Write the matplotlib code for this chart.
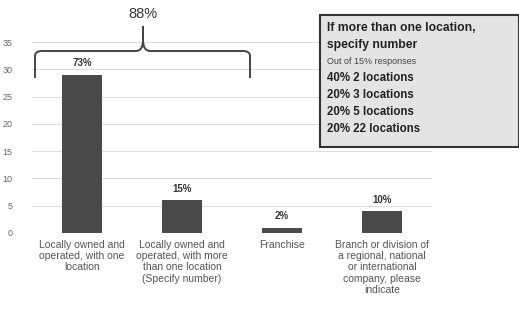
import matplotlib
matplotlib.use('Agg')
import matplotlib.pyplot as plt
from matplotlib.patches import Rectangle
from matplotlib.path import Path
from matplotlib.patches import PathPatch

plt.rcParams['font.family'] = ['Liberation Sans', 'DejaVu Sans']

# data: number of respondents per business type (out of 40)
categories = ['Locally owned and\noperated, with one\nlocation',
              'Locally owned and\noperated, with more\nthan one location\n(Specify number)',
              'Franchise',
              'Branch or division of\na regional, national\nor international\ncompany, please\nindicate']
counts = [29, 6, 1, 4]
pct_labels = ['73%', '15%', '2%', '10%']
yticks = [0, 5, 10, 15, 20, 25, 30, 35]
box_lines = ['40% 2 locations', '20% 3 locations', '20% 5 locations', '20% 22 locations']

W, H = 519, 310
fig = plt.figure(figsize=(W / 100, H / 100), dpi=100)
ax = fig.add_axes([32 / W, 1 - 233 / H, 400 / W, (233 - 42) / H])

x = range(len(categories))
ax.bar(x, counts, width=0.4, color='#4a4a4a', zorder=2)
for i, (c, lab) in enumerate(zip(counts, pct_labels)):
    ax.text(i, c + 1.2, lab, ha='center', va='bottom', fontsize=7,
            color='#333333', fontweight='bold')

ax.set_xlim(-0.5, 3.5)
ax.set_ylim(0, 35)
ax.set_yticks(yticks)
ax.set_yticklabels([str(t) for t in yticks], fontsize=6.5, color='#666666')
ax.set_xticks(list(x))
ax.set_xticklabels(categories, fontsize=7.5, color='#555555', linespacing=1.15)
ax.tick_params(length=0, pad=5)
ax.tick_params(axis='y', pad=14)
ax.yaxis.grid(True, color='#dddddd', linewidth=0.8)
ax.set_axisbelow(True)
for s in ax.spines.values():
    s.set_visible(False)

# brace over first two bars (figure pixel coords -> fraction)
def fp(px, py):
    return (px / W, 1 - py / H)

verts = [fp(35, 78), fp(35, 56), fp(35, 51), fp(42, 51),
         fp(136, 51), fp(143, 51), fp(143, 40), fp(143, 26),
         fp(143, 40), fp(143, 51), fp(150, 51),
         fp(243, 51), fp(250, 51), fp(250, 56), fp(250, 78)]
codes = [Path.MOVETO, Path.LINETO, Path.CURVE3, Path.CURVE3,
         Path.LINETO, Path.CURVE3, Path.CURVE3, Path.LINETO,
         Path.LINETO, Path.CURVE3, Path.CURVE3,
         Path.LINETO, Path.CURVE3, Path.CURVE3, Path.LINETO]
fig.patches.append(PathPatch(Path(verts, codes), transform=fig.transFigure,
                             fill=False, edgecolor='#444444', linewidth=1.4))
fig.text(143 / W, 1 - 14 / H, '88%', ha='center', va='center', fontsize=10.5,
         color='#333333')

# note box
fig.patches.append(Rectangle(fp(320, 147), 199 / W, 132 / H, transform=fig.transFigure,
                             facecolor='#e4e4e4', edgecolor='#333333', linewidth=1.5))
tx = 327 / W
fig.text(tx, 1 - 28 / H, 'If more than one location,', fontsize=8.7, fontweight='bold',
         color='#222222', va='center')
fig.text(tx, 1 - 45 / H, 'specify number', fontsize=8.7, fontweight='bold',
         color='#222222', va='center')
fig.text(tx, 1 - 61 / H, 'Out of 15% responses', fontsize=6.5, color='#444444', va='center')
for k, line in enumerate(box_lines):
    fig.text(tx, 1 - (78 + 17 * k) / H, line, fontsize=8.3, fontweight='bold',
             color='#222222', va='center')

fig.savefig('out.png', dpi=100)
